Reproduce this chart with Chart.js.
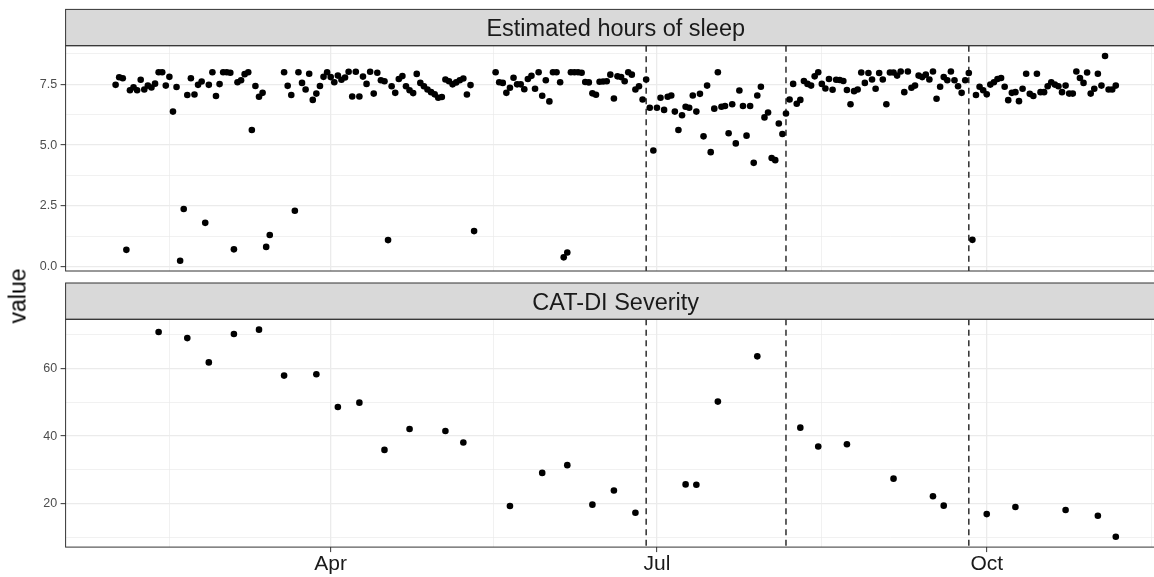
<!DOCTYPE html>
<html>
<head>
<meta charset="utf-8">
<title>Sleep and CAT-DI severity</title>
<script src="https://cdn.jsdelivr.net/npm/chart.js@4.4.1/dist/chart.umd.min.js"></script>
<style>
  html, body { margin: 0; padding: 0; background: #fff; overflow: hidden; }
  #wrap { position: relative; width: 1154px; height: 577px; overflow: hidden; }
  .panel { position: absolute; left: 0; }
  #top { top: 0; }
  #bottom { top: 282px; }
  #ylab {
    position: absolute; left: 18px; top: 296px;
    transform: translate(-50%, -50%) rotate(-90deg);
    font: 23px "Liberation Sans", Arial, sans-serif; line-height: 1;
    color: #000; white-space: nowrap;
  }
</style>
</head>
<body>
<div id="wrap">
  <div class="panel" id="top"><canvas id="sleepChart" width="1170" height="282"></canvas></div>
  <div class="panel" id="bottom"><canvas id="catChart" width="1170" height="295"></canvas></div>
  <div id="ylab">value</div>
</div>
<script>
// days are counted from 1 Jan (1 Jan = 0)
// estimated sleep, one value per day from day 30 on; null = no record that day
const sleepFirstDay = 30;
const sleepHours = [
  7.48, 7.79, 7.75, 0.69, 7.26, 7.38, 7.26, 7.69, 7.29, 7.45,
  7.37, 7.53, 8.00, 8.00, 7.45, 7.81, 6.38, 7.39, 0.24, 2.37,
  7.06, 7.75, 7.08, 7.48, 7.62, 1.80, 7.48, 8.00, 7.02, 7.51,
  8.00, 8.00, 7.98, 0.71, 7.59, 7.67, 7.92, 8.00, 5.62, 7.43,
  6.99, 7.15, 0.81, 1.30, null, null, null, 8.00, 7.44, 7.06,
  2.30, 8.00, 7.56, 7.29, 7.94, 6.86, 7.12, 7.43, 7.81, 8.00,
  7.80, 7.59, 7.86, 7.69, 7.78, 8.02, 7.00, 8.02, 7.00, 7.82,
  7.52, 8.02, 7.12, 7.98, 7.67, 7.63, 1.09, 7.42, 7.15, 7.72,
  7.84, 7.42, 7.26, 7.14, 7.93, 7.56, 7.42, 7.29, 7.18, 7.09,
  6.95, 6.98, 7.70, 7.63, 7.50, 7.58, 7.67, 7.74, 7.08, 7.47,
  1.46, null, null, null, null, null, 8.00, 7.59, 7.56, 7.15,
  7.36, 7.77, 7.50, 7.50, 7.30, 7.72, 7.85, 7.32, 8.00, 7.03,
  7.67, 6.80, 8.00, 8.00, 7.59, 0.38, 0.58, 8.00, 8.00, 8.00,
  7.98, 7.60, 7.58, 7.13, 7.07, 7.61, 7.62, 7.63, 7.90, 6.92,
  7.83, 7.80, 7.63, 8.00, 7.90, 7.29, 7.42, 6.88, 7.70, 6.54,
  4.78, 6.54, 6.95, 6.45, 6.99, 7.04, 6.38, 5.62, 6.23, 6.58,
  6.54, 7.04, 6.38, 7.11, 5.36, 7.45, 4.71, 6.50, 8.00, 6.58,
  6.61, 5.49, 6.68, 5.07, 7.25, 6.61, 5.39, 6.61, 4.27, 7.04,
  7.40, 6.14, 6.34, 4.47, 4.38, 5.89, 5.46, 6.30, 6.88, 7.52,
  6.70, 6.86, 7.64, 7.52, 7.45, 7.83, 8.00, 7.52, 7.33, 7.72,
  7.28, 7.69, 7.68, 7.64, 7.27, 6.68, 7.22, 7.29, 7.99, 7.56,
  7.97, 7.70, 7.32, 7.97, 7.70, 6.68, 7.99, 7.99, 7.86, 8.03,
  7.18, 8.03, 7.36, 7.45, 7.86, 7.80, 7.90, 7.70, 8.03, 6.91,
  7.40, 7.80, 7.67, 8.03, 7.67, 7.42, 7.15, 7.67, 7.97, 1.10,
  7.06, 7.40, 7.26, 7.09, 7.49, 7.59, 7.72, 7.76, 7.40, 6.85,
  7.15, 7.18, 6.81, 7.32, 7.94, 7.11, 7.02, 7.94, 7.18, 7.18,
  7.42, 7.59, 7.49, 7.42, 7.18, 7.45, 7.12, 7.12, 8.03, 7.76,
  7.56, 7.99, 7.12, 7.32, 7.94, 7.45, 8.67, 7.29, 7.29, 7.45
];

const catDays = [42, 50, 56, 63, 70, 77, 86, 92, 98, 105, 112, 122, 127, 140, 149, 156, 163,
                 169, 175, 189, 192, 198, 209, 221, 226, 234, 247, 258, 261, 273, 281, 295, 304, 309];
const catScores = [70.8, 69.0, 61.8, 70.2, 71.5, 57.9, 58.3, 48.6, 49.9, 35.9, 42.1, 41.5, 38.1, 19.3, 29.1, 31.4, 19.7,
                   23.9, 17.3, 25.7, 25.6, 50.2, 63.6, 42.5, 36.9, 37.6, 27.4, 22.2, 19.4, 16.9, 19.0, 18.1, 16.4, 10.2];

const eventDays = [178, 217, 268];

const monthDays = [90, 181, 273];
const monthLabels = ["Apr", "Jul", "Oct"];
const midMonthDays = [45, 135.5, 227, 319];

const sleepTicks = [0, 2.5, 5, 7.5];
const sleepMinor = [1.25, 3.75, 6.25, 8.75];
const catTicks = [20, 40, 60];
const catMinor = [10, 30, 50, 70];

const FONT = '"Liberation Sans", Arial, Helvetica, sans-serif';
Chart.defaults.font.family = FONT;

// ggplot-like 5% expansion of the data range
const expand = (lo, hi) => { const p = (hi - lo) * 0.05; return [lo - p, hi + p]; };

const sleepPoints = [];
sleepHours.forEach((v, i) => { if (v !== null) sleepPoints.push({ x: sleepFirstDay + i, y: v }); });
const catPoints = catDays.map((d, i) => ({ x: d, y: catScores[i] }));

const allDays = sleepPoints.map(p => p.x).concat(catDays);
const [xMin, xMax] = expand(Math.min(...allDays), Math.max(...allDays));

const STRIP_H = 36.3;
const AXIS_W = 65.6;

const facetPlugin = {
  id: "facet",
  beforeDatasetsDraw(chart) {
    const { ctx, chartArea: a, scales: { x } } = chart;
    ctx.save();
    ctx.strokeStyle = "#2e2e2e";
    ctx.lineWidth = 1.5;
    ctx.setLineDash([6, 4.5]);
    eventDays.forEach(d => {
      const px = x.getPixelForValue(d);
      ctx.beginPath();
      ctx.moveTo(px, a.top);
      ctx.lineTo(px, a.bottom);
      ctx.stroke();
    });
    ctx.restore();
  },
  afterDraw(chart, args, opts) {
    const { ctx, chartArea: a } = chart;
    ctx.save();
    ctx.fillStyle = "#d9d9d9";
    ctx.fillRect(a.left, a.top - STRIP_H, a.right - a.left, STRIP_H);
    ctx.strokeStyle = "#333333";
    ctx.lineWidth = 1;
    ctx.strokeRect(a.left, a.top - STRIP_H, a.right - a.left, STRIP_H);
    ctx.strokeRect(a.left, a.top, a.right - a.left, a.bottom - a.top);
    ctx.fillStyle = "#1a1a1a";
    ctx.font = "23.5px " + FONT;
    ctx.textAlign = "center";
    ctx.textBaseline = "alphabetic";
    ctx.fillText(opts.label, (a.left + a.right) / 2, a.top - STRIP_H / 2 + 8.4);
    ctx.restore();
  }
};

function gridOpts(majors) {
  return {
    color: "#ebebeb",
    lineWidth: c => (c.tick && majors.includes(c.tick.value)) ? 1.3 : 0.7,
    tickColor: c => (c.tick && majors.includes(c.tick.value)) ? "#333333" : "rgba(0,0,0,0)",
    tickLength: 5,
    tickWidth: 1
  };
}

function yScale(range, majors, minors, fmt) {
  return {
    type: "linear",
    min: range[0],
    max: range[1],
    afterBuildTicks: s => { s.ticks = majors.concat(minors).sort((a, b) => a - b).map(v => ({ value: v })); },
    afterFit: s => { s.width = AXIS_W; },
    border: { display: false },
    grid: gridOpts(majors),
    ticks: {
      autoSkip: false,
      padding: 3.5,
      color: "#4d4d4d",
      font: { size: 12.5 },
      callback: v => majors.includes(v) ? fmt(v) : ""
    }
  };
}

function xScale(showLabels, height) {
  const s = {
    type: "linear",
    min: xMin,
    max: xMax,
    afterBuildTicks: sc => { sc.ticks = monthDays.concat(midMonthDays).sort((a, b) => a - b).map(v => ({ value: v })); },
    afterFit: sc => { sc.height = height; },
    border: { display: false },
    grid: gridOpts(monthDays),
    ticks: {
      display: showLabels,
      autoSkip: false,
      maxRotation: 0,
      minRotation: 0,
      padding: 0,
      color: "#1a1a1a",
      font: { size: 21 },
      callback: v => { const i = monthDays.indexOf(v); return i >= 0 ? monthLabels[i] : ""; }
    }
  };
  if (!showLabels) s.grid.drawTicks = false;
  return s;
}

function makeChart(id, points, yRange, majors, minors, fmt, label, showX, xHeight, pad) {
  return new Chart(document.getElementById(id), {
    type: "scatter",
    data: {
      datasets: [{
        data: points,
        backgroundColor: "#000",
        borderWidth: 0,
        pointRadius: 3.3,
        pointHoverRadius: 3.3
      }]
    },
    options: {
      responsive: false,
      animation: false,
      events: [],
      layout: { padding: pad },
      plugins: {
        legend: { display: false },
        tooltip: { enabled: false },
        facet: { label: label }
      },
      scales: {
        x: xScale(showX, xHeight),
        y: yScale(yRange, majors, minors, fmt)
      }
    },
    plugins: [facetPlugin]
  });
}

makeChart("sleepChart", sleepPoints,
  expand(Math.min(...sleepPoints.map(p => p.y)), Math.max(...sleepPoints.map(p => p.y))),
  sleepTicks, sleepMinor, v => v.toFixed(1), "Estimated hours of sleep",
  false, 0, { top: 45.7, bottom: 8.3, left: 0, right: 4.2 });

makeChart("catChart", catPoints,
  expand(Math.min(...catScores), Math.max(...catScores)),
  catTicks, catMinor, v => String(v), "CAT-DI Severity",
  true, 29.9, { top: 37.3, bottom: 0, left: 0, right: 4.2 });
</script>
</body>
</html>
